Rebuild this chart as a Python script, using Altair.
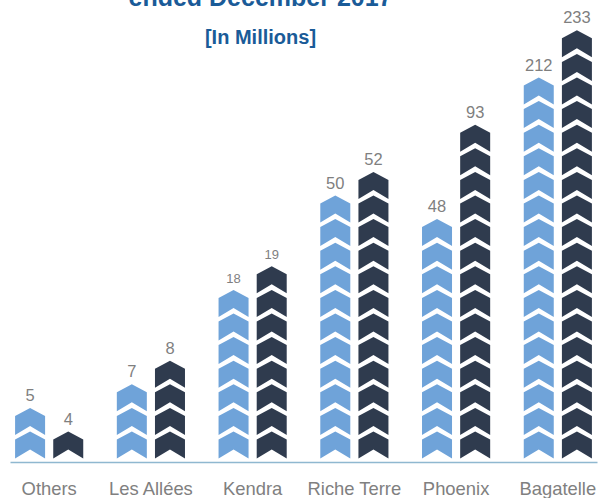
import altair as alt
import pandas as pd

categories = ["Others", "Les Allées", "Kendra", "Riche Terre", "Phoenix", "Bagatelle"]
series = ["Prior", "Current"]
values_prior = [5, 7, 18, 50, 48, 212]
values_current = [4, 8, 19, 52, 93, 233]
# number of stacked chevrons drawn in each bar
chevrons_prior = [2, 3, 7, 11, 10, 16]
chevrons_current = [1, 4, 8, 12, 14, 18]

colors = ["#6fa3d9", "#2f3b4e"]
CHEVRON = "M0,-0.9 L1,-0.367 L1,0.9 L0,0.3 L-1,0.9 L-1,-0.367 Z"

rows = []
labels = []
for i, cat in enumerate(categories):
    for s, vals, counts in ((series[0], values_prior, chevrons_prior),
                            (series[1], values_current, chevrons_current)):
        for k in range(counts[i]):
            rows.append({"cat": cat, "series": s, "k": k})
        labels.append({"cat": cat, "series": s, "value": vals[i], "top": counts[i] - 1})

chev_df = pd.DataFrame(rows)
lab_df = pd.DataFrame(labels)

x_enc = alt.X(
    "cat:N",
    sort=categories,
    scale=alt.Scale(type="band", paddingInner=0.25, paddingOuter=0.01),
    axis=alt.Axis(
        title=None, labelAngle=0, ticks=False,
        domainColor="#8fb8d0", domainWidth=1.5,
        labelColor="#808080", labelFontSize=18.4, labelFont="Liberation Sans",
        labelPadding=17.5,
    ),
)
xo_enc = alt.XOffset("series:N", sort=series, scale=alt.Scale(type="point", padding=0.5))
y_scale = alt.Scale(domain=[-0.72, 18.644], nice=False, zero=False)

chevrons = alt.Chart(chev_df).mark_point(
    shape=CHEVRON, size=900, filled=True, opacity=1, strokeWidth=0
).encode(
    x=x_enc,
    xOffset=xo_enc,
    y=alt.Y("k:Q", scale=y_scale, axis=None),
    color=alt.Color("series:N", scale=alt.Scale(domain=series, range=colors), legend=None),
)

texts = alt.Chart(lab_df).mark_text(
    baseline="alphabetic", dy=-20.5, color="#7f7f7f", font="Liberation Sans"
).encode(
    x=x_enc,
    xOffset=xo_enc,
    y=alt.Y("top:Q", scale=y_scale, axis=None),
    text="value:Q",
    size=alt.condition(alt.datum.cat == "Kendra", alt.value(13), alt.value(16.5)),
)

chart = alt.layer(chevrons, texts).properties(
    width=587,
    height=457,
    padding={"left": 10, "top": 5, "right": 10, "bottom": 36},
    autosize=alt.AutoSizeParams(type="none"),
    title=alt.TitleParams(
        text="ended December 2017",
        subtitle="[In Millions]",
        anchor="middle",
        frame="group",
        dx=-43,
        dy=43,
        offset=0,
        fontSize=25,
        subtitleFontSize=20,
        font="Liberation Sans",
        subtitleFont="Liberation Sans",
        fontWeight="bold",
        subtitleFontWeight="bold",
        color="#1a5b98",
        subtitleColor="#1a5b98",
        subtitlePadding=17,
    ),
).configure_view(stroke=None)

chart.save("out.html", embed_options={"renderer": "svg", "actions": False})
